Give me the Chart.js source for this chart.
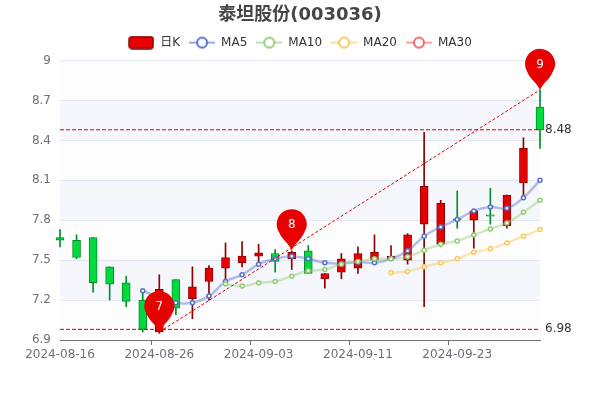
<!DOCTYPE html>
<html lang="zh-CN">
<head>
    <meta charset="UTF-8">
    <title>泰坦股份(003036)</title>
    <script src="https://cdn.jsdelivr.net/npm/chart.js"></script>
    <style>
        html, body { margin: 0; padding: 0; background: #ffffff; }
        canvas { display: block; }
    </style>
</head>
<body>
<canvas id="kline" width="600" height="400"></canvas>
<script>
    const dates = ['2024-08-16','2024-08-19','2024-08-20','2024-08-21','2024-08-22','2024-08-23','2024-08-26','2024-08-27','2024-08-28','2024-08-29',
        '2024-08-30','2024-09-02','2024-09-03','2024-09-04','2024-09-05','2024-09-06','2024-09-09','2024-09-10','2024-09-11','2024-09-12',
        '2024-09-13','2024-09-18','2024-09-19','2024-09-20','2024-09-23','2024-09-24','2024-09-25','2024-09-26','2024-09-27','2024-09-30'];
    const opens  = [7.67,7.65,7.67,7.45,7.33,7.20,6.96,7.355,7.21,7.34,7.44,7.48,7.53,7.55,7.51,7.57,7.36,7.41,7.44,7.50,7.51,7.50,7.77,7.62,7.81,7.80,7.84,7.76,8.08,8.65];
    const closes = [7.65,7.52,7.33,7.32,7.19,6.98,7.28,7.14,7.30,7.44,7.52,7.53,7.555,7.49,7.56,7.40,7.40,7.51,7.55,7.56,7.53,7.69,8.055,7.93,7.80,7.87,7.83,7.99,8.34,8.48];
    const highs  = [7.73,7.69,7.67,7.45,7.38,7.27,7.39,7.355,7.45,7.46,7.63,7.64,7.62,7.58,7.57,7.61,7.40,7.55,7.60,7.69,7.61,7.70,8.46,7.95,8.02,7.88,8.04,7.99,8.42,8.78];
    const lows   = [7.60,7.51,7.26,7.20,7.15,6.96,6.95,7.09,7.06,7.20,7.33,7.45,7.48,7.41,7.43,7.40,7.29,7.36,7.40,7.47,7.50,7.47,7.15,7.60,7.74,7.59,7.77,7.74,7.975,8.34];
    const ma5  = [null,null,null,null,null,7.27,7.22,7.18,7.18,7.23,7.34,7.39,7.47,7.51,7.53,7.51,7.48,7.475,7.485,7.48,7.51,7.57,7.68,7.75,7.805,7.87,7.90,7.89,7.97,8.10];
    const ma10 = [null,null,null,null,null,null,null,null,null,null,7.32,7.305,7.33,7.34,7.38,7.42,7.43,7.47,7.49,7.51,7.51,7.525,7.575,7.62,7.645,7.69,7.735,7.78,7.86,7.95];
    const ma20 = [null,null,null,null,null,null,null,null,null,null,null,null,null,null,null,null,null,null,null,null,7.405,7.415,7.45,7.48,7.51,7.56,7.585,7.63,7.68,7.73];
    const ma30 = dates.map(() => null);
    const yTicks = [6.9,7.2,7.5,7.8,8.1,8.4,8.7,9];
    const pinIndex = [6,14,29];
    const pinValue = [6.96,7.575,8.78];
    const pinLabel = ['7','8','9'];
    const lineHigh = 8.48;
    const lineLow = 6.98;
    const trendStart = [6,6.96];
    const trendEnd = [29,8.78];

    const RED = '#e60000', RED_DARK = '#8a0000', GREEN = '#00da3c', GREEN_DARK = '#008f28';

    // legend icons
    function lineIcon(color) {
        const c = document.createElement('canvas');
        c.width = 26; c.height = 14;
        const g = c.getContext('2d');
        g.strokeStyle = color; g.globalAlpha = 0.6; g.lineWidth = 2;
        g.beginPath(); g.moveTo(0,7); g.lineTo(26,7); g.stroke();
        g.globalAlpha = 1; g.fillStyle = '#fff'; g.lineWidth = 2;
        g.beginPath(); g.arc(13,7,5,0,Math.PI*2); g.fill(); g.stroke();
        return c;
    }
    function candleIcon() {
        const c = document.createElement('canvas');
        c.width = 26; c.height = 14;
        const g = c.getContext('2d');
        g.fillStyle = RED; g.strokeStyle = RED_DARK; g.lineWidth = 1.5;
        g.beginPath(); g.roundRect(1,1,24,12,3); g.fill(); g.stroke();
        return c;
    }

    const bandsPlugin = {
        id: 'bands',
        beforeDatasetsDraw(chart) {
            const { ctx, chartArea: a, scales: { y } } = chart;
            ctx.save();
            for (let i = 0; i < yTicks.length - 1; i++) {
                ctx.fillStyle = i % 2 == 1 ? 'rgba(200,210,235,0.17)' : 'rgba(250,250,250,0.3)';
                const t = y.getPixelForValue(yTicks[i + 1]), b = y.getPixelForValue(yTicks[i]);
                ctx.fillRect(a.left, t, a.right - a.left, b - t);
            }
            ctx.restore();
        }
    };

    const pinPlugin = {
        id: 'pins',
        afterDatasetsDraw(chart) {
            const { ctx, scales: { x, y } } = chart;
            pinIndex.forEach((idx, n) => {
                const px = x.getPixelForValue(idx), tip = y.getPixelForValue(pinValue[n]);
                const r = 15, cy = tip - 26;
                ctx.save();
                ctx.fillStyle = RED;
                ctx.beginPath();
                ctx.arc(px, cy, r, Math.PI * 0.82, Math.PI * 0.18);
                ctx.bezierCurveTo(px + 10, cy + 15, px + 3, cy + 19, px, tip);
                ctx.bezierCurveTo(px - 3, cy + 19, px - 10, cy + 15, px - r * Math.cos(Math.PI * 0.18), cy + r * Math.sin(Math.PI * 0.18));
                ctx.fill();
                ctx.fillStyle = '#ffffff';
                ctx.font = '12px "DejaVu Sans"';
                ctx.textAlign = 'center';
                ctx.textBaseline = 'middle';
                ctx.fillText(pinLabel[n], px, cy + 1);
                ctx.restore();
            });
        }
    };

    const endLabels = {
        id: 'endLabels',
        afterDraw(chart) {
            const { ctx, chartArea: a, scales: { y } } = chart;
            ctx.save();
            ctx.fillStyle = '#333333';
            ctx.font = '12px "DejaVu Sans"';
            ctx.textBaseline = 'middle';
            [lineHigh, lineLow].forEach(v => ctx.fillText(v.toFixed(2), a.right + 5, y.getPixelForValue(v)));
            ctx.restore();
        }
    };

    function maLine(label, data, color, order) {
        return {
            type: 'line', label, data, order,
            borderColor: color + '70', borderWidth: 2.5, tension: 0.4,
            pointRadius: 2, pointBorderWidth: 1.5, pointBorderColor: color, pointBackgroundColor: '#ffffff',
            clip: false, spanGaps: false
        };
    }
    function markLine(label, data, dash, width) {
        return {
            type: 'line', label, data, order: 1,
            borderColor: '#d40000', borderWidth: width, borderDash: dash, pointRadius: 0, spanGaps: true, clip: false
        };
    }

    const trend = dates.map((d, i) => i == trendStart[0] ? trendStart[1] : i == trendEnd[0] ? trendEnd[1] : null);

    new Chart(document.getElementById('kline'), {
        data: {
            labels: dates,
            datasets: [
                {
                    type: 'bar', label: '日K', order: 5, grouped: false, clip: false,
                    data: opens.map((o, i) => [o, closes[i]]),
                    barThickness: 8,
                    backgroundColor: opens.map((o, i) => closes[i] >= o ? RED : GREEN),
                    borderColor: opens.map((o, i) => closes[i] >= o ? RED_DARK : GREEN_DARK),
                    borderWidth: 1, borderSkipped: false
                },
                {
                    type: 'bar', label: 'wick', order: 6, grouped: false, clip: false,
                    data: lows.map((l, i) => [l, highs[i]]),
                    barThickness: 1,
                    backgroundColor: opens.map((o, i) => closes[i] >= o ? RED_DARK : GREEN_DARK)
                },
                maLine('MA5', ma5, '#5470c6', 4),
                maLine('MA10', ma10, '#91cc75', 3),
                maLine('MA20', ma20, '#fac858', 2),
                maLine('MA30', ma30, '#ee6666', 2),
                markLine('high', dates.map(() => lineHigh), [4, 2], 1),
                markLine('low', dates.map(() => lineLow), [4, 2], 1),
                markLine('trend', trend, [3, 2], 1)
            ]
        },
        options: {
            responsive: false,
            animation: false,
            devicePixelRatio: 1,
            scales: {
                x: {
                    offset: false,
                    grid: {
                        drawOnChartArea: false, drawTicks: true, tickLength: 5,
                        tickColor: c => c.index % 6 == 0 ? '#6e7079' : 'transparent'
                    },
                    border: { color: '#6e7079' },
                    ticks: {
                        autoSkip: false, maxRotation: 0, minRotation: 0, color: '#6e7079', padding: 3,
                        font: { family: '"DejaVu Sans"', size: 12 },
                        callback(v, i) { return i % 6 == 0 ? dates[i] : ''; }
                    },
                    afterFit(s) { s.height = 60; }
                },
                y: {
                    min: yTicks[0], max: yTicks[yTicks.length - 1],
                    afterBuildTicks(s) { s.ticks = yTicks.map(v => ({ value: v })); },
                    afterFit(s) { s.width = 60; },
                    grid: { color: '#e0e6f1', drawTicks: false },
                    border: { display: false },
                    ticks: {
                        color: '#6e7079', padding: 9,
                        font: { family: '"DejaVu Sans"', size: 12 },
                        callback: v => String(+v.toFixed(1))
                    }
                },
                // empty margins, keep title and legend centred on the page
                side: {
                    position: 'right',
                    grid: { display: false }, border: { display: false }, ticks: { display: false },
                    afterFit(s) { s.width = 60; }
                },
                head: {
                    type: 'category', position: 'top', labels: [''],
                    grid: { display: false }, border: { display: false }, ticks: { display: false },
                    afterFit(s) { s.height = 2; }
                }
            },
            plugins: {
                title: {
                    display: true, text: '泰坦股份(003036)', color: '#464646',
                    font: { family: '"DejaVu Sans", "Noto Sans CJK SC"', size: 18, weight: 'bold' },
                    padding: { top: 5, bottom: 1 }
                },
                legend: {
                    display: true,
                    labels: {
                        usePointStyle: true, pointStyleWidth: 26, padding: 9, color: '#333333',
                        font: { family: '"DejaVu Sans", "Noto Sans CJK SC"', size: 12 },
                        generateLabels(chart) {
                            const icons = { '日K': candleIcon(), MA5: lineIcon('#5470c6'), MA10: lineIcon('#91cc75'), MA20: lineIcon('#fac858'), MA30: lineIcon('#ee6666') };
                            return ['日K','MA5','MA10','MA20','MA30'].map(t => ({
                                text: t, pointStyle: icons[t], fontColor: '#333333', lineWidth: 0, strokeStyle: 'transparent', fillStyle: 'transparent'
                            }));
                        }
                    }
                },
                tooltip: { enabled: false }
            }
        },
        plugins: [bandsPlugin, pinPlugin, endLabels]
    });
</script>
</body>
</html>
